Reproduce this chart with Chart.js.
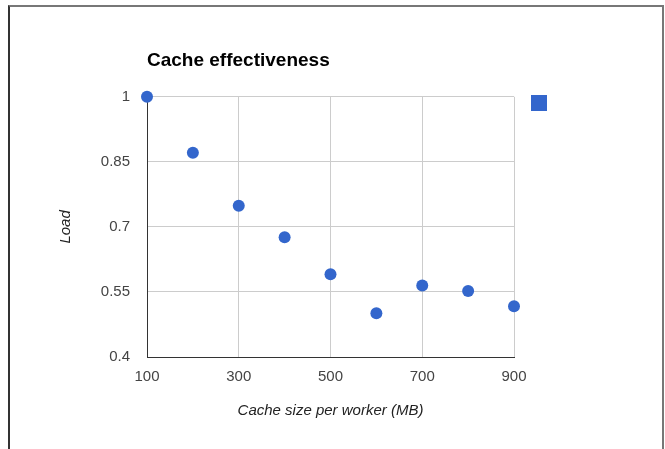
<!DOCTYPE html>
<html>
<head>
<meta charset="utf-8">
<script src="https://cdn.jsdelivr.net/npm/chart.js@4"></script>
<style>
  html, body { margin: 0; padding: 0; background: #fff; }
  #wrap { position: relative; width: 665px; height: 449px; overflow: hidden; }
  #frame {
    position: absolute; left: 8px; top: 5px; width: 652px; height: 470px;
    border-top: 2px solid #777; border-right: 2px solid #777; border-left: 2px solid #333;
  }
  canvas { position: absolute; left: 0; top: 0; }
</style>
</head>
<body>
<div id="wrap">
  <div id="frame"></div>
  <canvas id="chart-cache" width="665" height="449"></canvas>
</div>
<script>
const cacheSizes = [100, 200, 300, 400, 500, 600, 700, 800, 900];
const loadValues = [1.0, 0.871, 0.749, 0.676, 0.591, 0.501, 0.565, 0.552, 0.517];
const xTicks = [100, 300, 500, 700, 900];
const yTicks = [0.4, 0.55, 0.7, 0.85, 1];

const blue = "#3366cc";
const font = "'Liberation Sans', Arial, sans-serif";

// legend marker only (no label text in the original)
const squareLegend = {
  id: "squareLegend",
  afterDraw(chart) {
    const ctx = chart.ctx;
    const ds = chart.data.datasets[0];
    ctx.save();
    ctx.fillStyle = ds.backgroundColor;
    ctx.fillRect(531, 95, 16, 16);
    ctx.restore();
  }
};

new Chart(document.getElementById("chart-cache"), {
  type: "scatter",
  data: {
    datasets: [{
      label: "",
      data: cacheSizes.map((x, i) => ({ x: x, y: loadValues[i] })),
      backgroundColor: blue,
      borderColor: blue,
      pointRadius: 6,
      pointHoverRadius: 6,
      borderWidth: 0,
      clip: false
    }]
  },
  options: {
    responsive: false,
    animation: false,
    layout: { padding: { left: 0, right: 151, top: 0, bottom: 0 } },
    plugins: {
      legend: { display: false },
      tooltip: { enabled: false },
      title: {
        display: true,
        text: "Cache effectiveness",
        align: "start",
        fullSize: false,
        color: "#000",
        font: { family: font, size: 19, weight: "bold" },
        padding: { top: 49, bottom: 25 }
      }
    },
    scales: {
      x: {
        type: "linear",
        min: 100,
        max: 900,
        afterFit: s => { s.height = 92; },
        afterBuildTicks: s => { s.ticks = xTicks.map(v => ({ value: v })); },
        grid: { color: "#ccc", drawTicks: false },
        border: { color: "#333", width: 1 },
        ticks: { color: "#444", padding: 11, font: { family: font, size: 15 } },
        title: {
          display: true,
          text: "Cache size per worker (MB)",
          color: "#222",
          font: { family: font, size: 15, style: "italic" },
          padding: { bottom: 29 }
        }
      },
      y: {
        min: 0.4,
        max: 1,
        afterFit: s => { s.width = 147; },
        afterBuildTicks: s => { s.ticks = yTicks.map(v => ({ value: v })); },
        grid: { color: "#ccc", drawTicks: false },
        border: { color: "#333", width: 1 },
        ticks: {
          color: "#444",
          padding: 17,
          font: { family: font, size: 15 },
          callback: v => String(Math.round(v * 100) / 100)
        },
        title: {
          display: true,
          text: "Load",
          color: "#222",
          font: { family: font, size: 15, style: "italic" },
          padding: { top: 57 }
        }
      }
    }
  },
  plugins: [squareLegend]
});
</script>
</body>
</html>
